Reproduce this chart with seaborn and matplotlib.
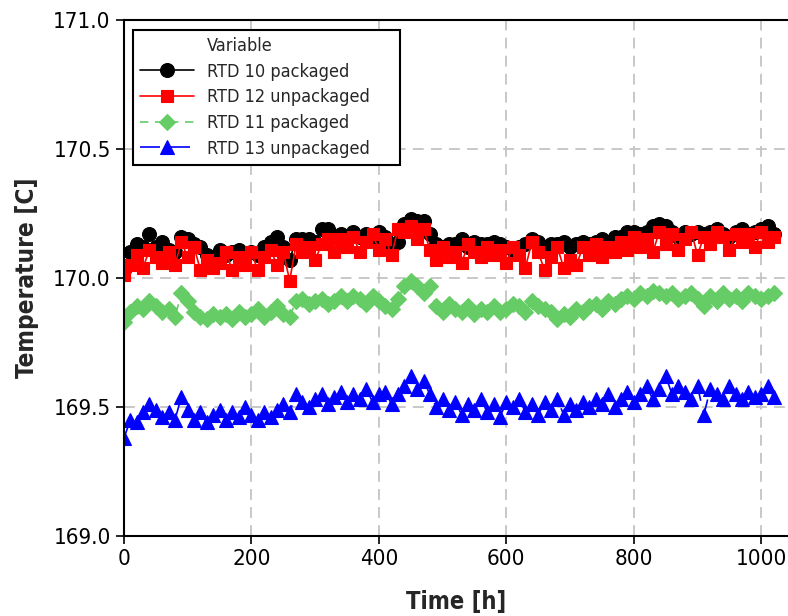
import matplotlib
matplotlib.use("Agg")
import matplotlib.pyplot as plt
from matplotlib.lines import Line2D
import seaborn as sns
import numpy as np
import pandas as pd

time_h = list(range(0, 1030, 10))

rtd10_packaged = [
    170.03, 170.10, 170.13, 170.12, 170.17, 170.12, 170.14, 170.11, 170.10, 170.16,
    170.15, 170.13, 170.12, 170.09, 170.08, 170.11, 170.09, 170.10, 170.11, 170.09,
    170.10, 170.09, 170.12, 170.14, 170.16, 170.12, 170.07, 170.15, 170.15, 170.15,
    170.14, 170.19, 170.19, 170.16, 170.17, 170.16, 170.18, 170.16, 170.17, 170.15,
    170.18, 170.16, 170.12, 170.14, 170.21, 170.23, 170.22, 170.22, 170.17, 170.13,
    170.12, 170.13, 170.13, 170.15, 170.12, 170.14, 170.13, 170.13, 170.14, 170.13,
    170.12, 170.11, 170.12, 170.13, 170.15, 170.14, 170.12, 170.13, 170.13, 170.14,
    170.12, 170.13, 170.14, 170.13, 170.14, 170.15, 170.14, 170.16, 170.16, 170.18,
    170.18, 170.17, 170.18, 170.20, 170.21, 170.20, 170.18, 170.16, 170.18, 170.17,
    170.18, 170.17, 170.18, 170.19, 170.17, 170.16, 170.18, 170.19, 170.17, 170.18,
    170.19, 170.20, 170.17,
]

rtd12_unpackaged = [
    170.01, 170.05, 170.09, 170.04, 170.11, 170.08, 170.06, 170.10, 170.05, 170.14,
    170.08, 170.12, 170.03, 170.07, 170.04, 170.06, 170.10, 170.03, 170.08, 170.05,
    170.10, 170.03, 170.08, 170.11, 170.05, 170.10, 169.99, 170.13, 170.10, 170.12,
    170.07, 170.13, 170.15, 170.10, 170.15, 170.12, 170.16, 170.10, 170.14, 170.17,
    170.11, 170.15, 170.09, 170.19, 170.18, 170.20, 170.15, 170.19, 170.11, 170.07,
    170.12, 170.08, 170.10, 170.06, 170.13, 170.10, 170.08, 170.12, 170.09, 170.11,
    170.06, 170.12, 170.09, 170.04, 170.14, 170.10, 170.03, 170.08, 170.12, 170.04,
    170.07, 170.05, 170.12, 170.09, 170.13, 170.08, 170.12, 170.10, 170.14, 170.11,
    170.16, 170.12, 170.15, 170.10, 170.18, 170.13, 170.17, 170.11, 170.15, 170.18,
    170.09, 170.16, 170.13, 170.18, 170.16, 170.11, 170.17, 170.14, 170.17, 170.12,
    170.18, 170.14, 170.16,
]

rtd11_packaged = [
    169.83, 169.87, 169.89, 169.88, 169.91, 169.89, 169.87, 169.88, 169.85, 169.94,
    169.91, 169.87, 169.85, 169.84, 169.86, 169.85, 169.86, 169.84, 169.87, 169.85,
    169.86, 169.88, 169.85, 169.87, 169.89, 169.86, 169.85, 169.91, 169.92, 169.90,
    169.91, 169.92, 169.90, 169.91, 169.93, 169.91, 169.93, 169.92, 169.90, 169.93,
    169.91, 169.89, 169.88, 169.92, 169.97, 169.99, 169.97, 169.94, 169.97, 169.89,
    169.87, 169.90, 169.88, 169.87, 169.89, 169.86, 169.88, 169.87, 169.89, 169.87,
    169.88, 169.90, 169.89, 169.87, 169.91, 169.89, 169.88, 169.87, 169.84, 169.86,
    169.85, 169.88, 169.87, 169.89, 169.90, 169.88, 169.91, 169.90, 169.92, 169.93,
    169.92, 169.94, 169.93, 169.95, 169.94, 169.93, 169.94, 169.92, 169.93, 169.94,
    169.92, 169.89, 169.93, 169.91, 169.94, 169.92, 169.93, 169.91, 169.94, 169.93,
    169.92, 169.93, 169.94,
]

rtd13_unpackaged = [
    169.38, 169.45, 169.44, 169.48, 169.51, 169.49, 169.46, 169.48, 169.45, 169.54,
    169.49, 169.45, 169.48, 169.44, 169.47, 169.49, 169.45, 169.48, 169.46, 169.50,
    169.47, 169.45, 169.48, 169.46, 169.49, 169.51, 169.48, 169.55, 169.52, 169.50,
    169.53, 169.55, 169.51, 169.54, 169.56, 169.52, 169.55, 169.53, 169.57, 169.52,
    169.55, 169.56, 169.51, 169.55, 169.58, 169.62, 169.57, 169.60, 169.55, 169.50,
    169.53, 169.49, 169.52, 169.47, 169.51, 169.49, 169.53, 169.48, 169.51, 169.46,
    169.52, 169.50, 169.53, 169.48, 169.51, 169.47, 169.52, 169.49, 169.53, 169.47,
    169.51, 169.49, 169.52, 169.50, 169.53, 169.51, 169.55, 169.50, 169.53, 169.56,
    169.52, 169.55, 169.58, 169.53, 169.57, 169.62, 169.55, 169.58, 169.56, 169.53,
    169.58, 169.47, 169.57, 169.55, 169.53, 169.58, 169.55, 169.53, 169.56, 169.54,
    169.55, 169.58, 169.54,
]

series_names = ["RTD 10 packaged", "RTD 12 unpackaged", "RTD 11 packaged", "RTD 13 unpackaged"]
series_values = [rtd10_packaged, rtd12_unpackaged, rtd11_packaged, rtd13_unpackaged]
legend_title = "Variable"
x_ticks = [0, 200, 400, 600, 800, 1000]
y_ticks = [169.0, 169.5, 170.0, 170.5, 171.0]

sns.set_style("white")
plt.rcParams["font.family"] = ["DejaVu Sans"]
plt.rcParams["font.stretch"] = "condensed"

styles = [
    dict(color="black", marker="o", linestyle="-", markersize=10),
    dict(color="#ff0000", marker="s", linestyle="-", markersize=9),
    dict(color="#66cc66", marker="D", linestyle=(0, (5, 4)), markersize=8.5),
    dict(color="#0000ff", marker="^", linestyle=(0, (12, 6)), markersize=10.5),
]

fig = plt.figure(figsize=(7.88, 6.16), dpi=100)
ax = fig.add_axes([124 / 788, 80 / 616, 664 / 788, 516 / 616])

for name, vals, st in zip(series_names, series_values, styles):
    df = pd.DataFrame({"Time": time_h, "Temp": vals})
    sns.lineplot(data=df, x="Time", y="Temp", ax=ax, label=name,
                 color=st["color"], marker=st["marker"], linestyle=st["linestyle"],
                 markersize=st["markersize"], markeredgecolor=st["color"],
                 markeredgewidth=0.8, linewidth=1.2)

ax.set_xlim(0, 1042)
ax.set_ylim(169.0, 171.0)
ax.set_xticks(x_ticks)
ax.set_yticks(y_ticks)
ax.set_yticklabels([f"{v:.1f}" for v in y_ticks])
ax.grid(True, color="#c4c4c4", linestyle=(0, (6, 4)), linewidth=1.3)
ax.set_axisbelow(True)
for s in ["left", "bottom", "top"]:
    ax.spines[s].set_color("black")
    ax.spines[s].set_linewidth(1.5)
ax.spines["right"].set_visible(False)
ax.tick_params(axis="both", direction="out", length=6, width=1.2, colors="black",
               labelsize=16, left=True, bottom=True)
ax.set_xlabel("Time [h]", fontsize=17, fontweight="bold", labelpad=15)
ax.set_ylabel("Temperature [C]", fontsize=17.5, fontweight="bold", labelpad=10)

handles, labels = ax.get_legend_handles_labels()
title_handle = Line2D([], [], linestyle="none", marker=None)
handles = [title_handle] + handles
labels = [legend_title] + labels
leg = ax.legend(handles, labels, loc="upper left",
                bbox_to_anchor=(9 / 664, 0, 267 / 664, (536 - 30) / 516),
                mode="expand", fontsize=13, frameon=True, fancybox=False,
                edgecolor="black", framealpha=1, borderpad=0.4, labelspacing=0.42,
                handlelength=3.0, handletextpad=0.7, borderaxespad=0)
leg.get_frame().set_linewidth(1.5)

fig.savefig("out.png", dpi=100)
